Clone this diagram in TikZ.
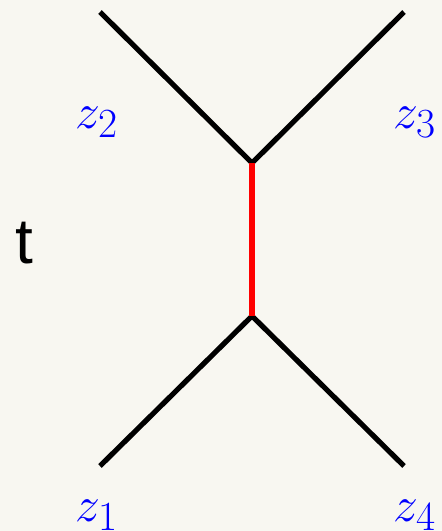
\documentclass[tikz,border=0pt]{standalone}
\usepackage{amsmath, amssymb}
\usepackage{fontspec}
\setsansfont{Liberation Sans}
\usepackage{tikz}
\definecolor{paper}{HTML}{F8F7F1}

\begin{document}
\begin{tikzpicture}[x=0.5pt, y=-0.5pt,
        leg/.style={line width=2.6pt, black},
        prop/.style={line width=2.6pt, red},
        zlab/.style={anchor=base west, inner sep=0pt, text=blue, font=\fontsize{31}{35}\selectfont}]
        \fill[paper] (0,0) rectangle (442,531);
        \useasboundingbox (0,0) rectangle (442,531);
        \clip (0,0) rectangle (442,531);
        \coordinate (P) at (252,163); \coordinate (Q) at (252,316);
        \coordinate (A2) at (100,12); \coordinate (A3) at (404,12);
        \coordinate (A1) at (100,466); \coordinate (A4) at (404,466);
        % external legs
        \draw[leg] (A2)--(P)--(A3);
        \draw[leg] (A1)--(Q)--(A4);
        % exchanged line in the t channel
        \draw[prop] (P)--(Q);
        \node[zlab] (z2) at (75,128) {$z_2$}; \node[zlab] (z3) at (393,128) {$z_3$};
        \node[zlab] (z1) at (75,521) {$z_1$}; \node[zlab] (z4) at (393,521) {$z_4$};
        \node[anchor=base west, inner sep=0pt, font=\sffamily\fontsize{32}{36}\selectfont] (t) at (15,263) {t};
    \end{tikzpicture}
\end{document}
